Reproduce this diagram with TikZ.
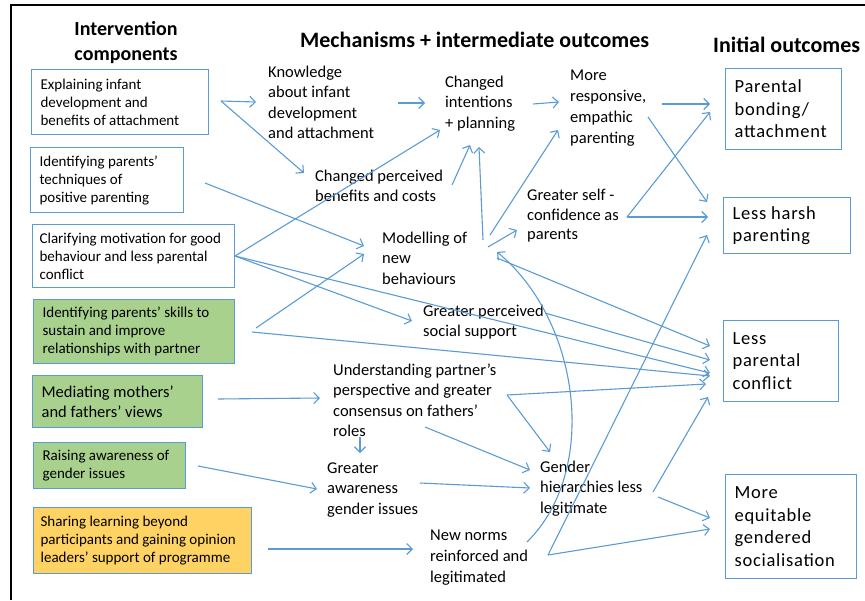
\documentclass[tikz,border=0pt]{standalone}
\usepackage{fontspec}
\setmainfont{Carlito}
\usetikzlibrary{arrows.meta}
\definecolor{lnblue}{RGB}{91,155,213}
\definecolor{gfill}{RGB}{169,209,142}
\definecolor{ofill}{RGB}{255,210,100}
\begin{document}
\begin{tikzpicture}[x=1pt,y=-1pt,
  arr/.style={draw=lnblue, line width=1.1pt, -{Straight Barb[length=5.5pt,width=11pt]}},
  lbox/.style={draw=lnblue, line width=1.2pt, anchor=north west, inner xsep=9pt, inner ysep=0pt, align=flush left, font=\fontsize{15}{18}\selectfont},
  rbox/.style={draw=lnblue, line width=1.2pt, anchor=north west, inner xsep=9pt, inner ysep=0pt, align=flush left, font=\fontsize{18.5}{22.5}\selectfont\addfontfeatures{LetterSpace=4}},
  mid/.style={anchor=north west, inner sep=0pt, align=left, font=\fontsize{16.5}{20.3}\selectfont},
  ttl/.style={font=\bfseries\fontsize{22}{25}\selectfont, inner sep=0pt}
]
\useasboundingbox (0,0) rectangle (865,600);
\draw[line width=1.3pt] (11,600) -- (11,5) -- (866,5);

% titles
\node[ttl, align=center, font=\bfseries\fontsize{20}{25}\selectfont] (t1) at (126,42.5) {Intervention\\components};
\node[ttl, anchor=west] (t2) at (300,40) {Mechanisms + intermediate outcomes};
\node[ttl, anchor=west] (t3) at (713,45) {Initial outcomes};

% left boxes
\node[lbox, text width=159pt, minimum height=65pt] (b1) at (31,69) {Explaining infant\\development and\\benefits of attachment};
\node[lbox, text width=135pt, minimum height=65pt] (b2) at (30,147) {Identifying parents’\\techniques of\\positive parenting};
\node[lbox, inner xsep=7pt, text width=188pt, minimum height=63pt] (b3) at (32,224) {Clarifying motivation for good\\behaviour and less parental\\conflict};
\node[lbox, fill=gfill, text width=183pt, minimum height=64pt] (b4) at (33,299) {Identifying parents’ skills to\\sustain and improve\\relationships with partner};
\node[lbox, fill=gfill, text width=152pt, minimum height=52pt, font=\fontsize{16.5}{19.5}\selectfont] (b5) at (32,375) {Mediating mothers’\\and fathers’ views};
\node[lbox, fill=gfill, text width=134pt, minimum height=46pt] (b6) at (33,442) {Raising awareness of\\gender issues};
\node[lbox, fill=ofill, inner xsep=7pt, text width=204pt, minimum height=66pt] (b7) at (33,507) {Sharing learning beyond\\participants and gaining opinion\\leaders’ support of programme};

% right boxes
\node[rbox, text width=98pt, minimum height=81pt] (r1) at (725,68) {Parental\\bonding/\\attachment};
\node[rbox, text width=109pt, minimum height=56pt] (r2) at (723,197) {Less harsh\\parenting};
\node[rbox, text width=97pt, minimum height=81pt] (r3) at (723,320) {Less\\parental\\conflict};
\node[rbox, text width=113pt, minimum height=104pt] (r4) at (725,474) {More\\equitable\\gendered\\socialisation};

% middle texts
\node[mid] (kn) at (268,63) {\strut Knowledge\\about infant\\development\\and attachment};
\node[mid] (ci) at (445,73) {\strut Changed\\intentions\\+ planning};
\node[mid, font=\fontsize{16.5}{21}\selectfont] (mr) at (570,66) {\strut More\\responsive,\\empathic\\parenting};
\node[mid, font=\fontsize{16.5}{19.5}\selectfont] (cp) at (315,168) {\strut Changed perceived\\benefits and costs};
\node[mid, font=\fontsize{16.5}{19.5}\selectfont] (sc) at (527,187) {\strut Greater self -\\confidence as\\parents};
\node[mid] (mo) at (382,229) {\strut Modelling of\\new\\behaviours};
\node[mid, font=\fontsize{16.5}{19.5}\selectfont] (ss) at (423,303) {\strut Greater perceived\\social support};
\node[mid] (up) at (333,361) {\strut Understanding partner’s\\perspective and greater\\consensus on fathers’\\roles};
\node[mid] (ga) at (327,459) {\strut Greater\\awareness\\gender issues};
\node[mid] (gh) at (540,458) {\strut Gender\\hierarchies less\\legitimate};
\node[mid, font=\fontsize{16.5}{21}\selectfont] (nn) at (430,526) {\strut New norms\\reinforced and\\legitimated};

% connector end points
\coordinate (b1o) at (221,101);
\coordinate (knI) at (256,102);
\coordinate (cpI) at (304,173);
\coordinate (knO) at (398,103);
\coordinate (ciI) at (425,103);
\coordinate (ciO) at (533,104);
\coordinate (mrI) at (559,102);
\coordinate (mrO1) at (662,104);
\coordinate (r1I1) at (710,104);
\coordinate (mrO2) at (648,117);
\coordinate (r2I1) at (707,202);
\coordinate (scO) at (627,217);
\coordinate (r1I2) at (710,112);
\coordinate (r2I2) at (708,217);
\coordinate (cpO) at (452,185);
\coordinate (ciI2) at (470,145);
\coordinate (moO1) at (483,240);
\coordinate (ciI3) at (479,147);
\coordinate (moO2) at (490,235);
\coordinate (mrI2) at (558,130);
\coordinate (moO3) at (488,247);
\coordinate (scI) at (517,230);
\coordinate (b3o) at (235,256);
\coordinate (ciI4) at (440,130);
\coordinate (ssI) at (412,321);
\coordinate (r3I1) at (710,373);
\coordinate (b2o) at (205,183);
\coordinate (moI1) at (364,246);
\coordinate (b4o1) at (256,328);
\coordinate (moI2) at (364,254);
\coordinate (b4o2) at (252,332);
\coordinate (r3I2) at (710,376);
\coordinate (moO4) at (497,258);
\coordinate (r3I3) at (710,346);
\coordinate (ssO) at (545,313);
\coordinate (r3I4) at (710,360);
\coordinate (upO1) at (507,395);
\coordinate (r3I5) at (706,384);
\coordinate (ghI1) at (550,452);
\coordinate (upO2) at (425,427);
\coordinate (ghI2) at (530,470);
\coordinate (upO3) at (360,437);
\coordinate (gaI1) at (360,453);
\coordinate (b5o) at (218,399);
\coordinate (upI) at (320,398);
\coordinate (b6o) at (198,466);
\coordinate (gaI2) at (317,489);
\coordinate (b7o) at (268,549);
\coordinate (nnI) at (413,549);
\coordinate (gaO) at (420,483);
\coordinate (ghI3) at (530,488);
\coordinate (ghO1) at (653,492);
\coordinate (r3I6) at (708,397);
\coordinate (ghO2) at (658,497);
\coordinate (r4I1) at (710,518);
\coordinate (nnO) at (548,555);
\coordinate (r4I2) at (710,529);
\coordinate (r2I3) at (707,235);
\coordinate (nnO2) at (527,542);
\coordinate (moI3) at (497,252);

% connectors
\draw[arr] (b1o) -- (knI);
\draw[arr] (b1o) -- (cpI);
\draw[arr] (knO) -- (ciI);
\draw[arr] (ciO) -- (mrI);
\draw[arr] (mrO1) -- (r1I1);
\draw[arr] (mrO2) -- (r2I1);
\draw[arr] (scO) -- (r1I2);
\draw[arr] (scO) -- (r2I2);
\draw[arr] (cpO) -- (ciI2);
\draw[arr] (moO1) -- (ciI3);
\draw[arr] (moO2) -- (mrI2);
\draw[arr] (moO3) -- (scI);
\draw[arr] (b3o) -- (ciI4);
\draw[arr] (b3o) -- (ssI);
\draw[arr] (b3o) -- (r3I1);
\draw[arr] (b2o) -- (moI1);
\draw[arr] (b4o1) -- (moI2);
\draw[arr] (b4o2) -- (r3I2);
\draw[arr] (moO4) -- (r3I3);
\draw[arr] (ssO) -- (r3I4);
\draw[arr] (upO1) -- (r3I5);
\draw[arr] (upO1) -- (ghI1);
\draw[arr] (upO2) -- (ghI2);
\draw[arr] (upO3) -- (gaI1);
\draw[arr] (b5o) -- (upI);
\draw[arr] (b6o) -- (gaI2);
\draw[arr] (b7o) -- (nnI);
\draw[arr] (gaO) -- (ghI3);
\draw[arr] (ghO1) -- (r3I6);
\draw[arr] (ghO2) -- (r4I1);
\draw[arr] (nnO) -- (r4I2);
\draw[arr] (nnO) -- (r2I3);
\draw[arr] (nnO2) .. controls (600,470) and (580,320) .. (moI3);
\end{tikzpicture}
\end{document}
